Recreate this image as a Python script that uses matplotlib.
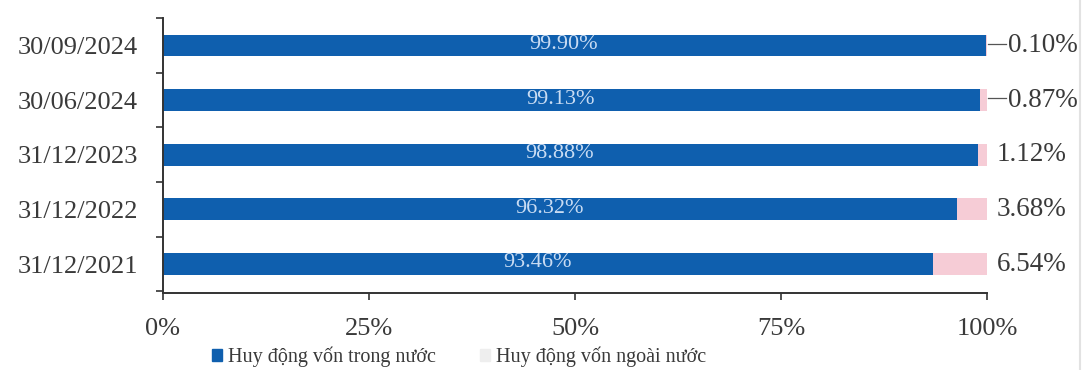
import matplotlib
matplotlib.use("Agg")
import matplotlib.pyplot as plt
from matplotlib.patches import Patch
from matplotlib.lines import Line2D

# Capital mobilisation structure by period (share of total, %)
dates = ["31/12/2021", "31/12/2022", "31/12/2023", "30/06/2024", "30/09/2024"]
domestic = [93.46, 96.32, 98.88, 99.13, 99.90]
foreign = [6.54, 3.68, 1.12, 0.87, 0.10]
x_ticks = [0, 25, 50, 75, 100]
x_tick_labels = ["0%", "25%", "50%", "75%", "100%"]
legend_labels = ["Huy động vốn trong nước", "Huy động vốn ngoài nước"]

BLUE = "#0f5fae"
PINK = "#f6ccd6"
TEXT = "#3a3a3a"

plt.rcParams["font.family"] = ["Liberation Serif", "DejaVu Serif"]

fig = plt.figure(figsize=(10.85, 3.70), dpi=100)
ax = fig.add_axes([0.1502, 0.208, 0.7595, 0.743])

ypos = list(range(len(dates)))
ax.barh(ypos, domestic, height=0.40, color=BLUE, label=legend_labels[0])
ax.barh(ypos, foreign, left=domestic, height=0.40, color=PINK, label=legend_labels[1])

for y, d, f in zip(ypos, domestic, foreign):
    ax.text(d / 2 - 1.3, y + 0.02, f"{d:.2f}%", ha="center", va="center",
            color="#c9dcf3", fontsize=16)
    if f < 1:
        # leader line from the thin segment out to its label
        ax.plot([100.1, 102.3], [y + 0.03, y + 0.03], color="#555555", lw=0.9,
                clip_on=False)
        ax.text(102.5, y, f"{f:.2f}%", ha="left", va="center",
                color=TEXT, fontsize=19.5, clip_on=False)
    else:
        ax.text(101.2, y, f"{f:.2f}%", ha="left", va="center",
                color=TEXT, fontsize=19.5, clip_on=False)

ax.set_xlim(0, 100)
ax.set_ylim(-0.53, 4.47)
ax.set_xticks(x_ticks)
ax.set_xticklabels(x_tick_labels, fontsize=19, color=TEXT)
ax.set_yticks(ypos)
ax.set_yticklabels(dates, fontsize=19, color=TEXT)
ax.set_yticks([i - 0.5 for i in range(len(dates) + 1)], minor=True)
ax.tick_params(axis="y", which="major", length=0, pad=18)
ax.tick_params(axis="y", which="minor", length=5, width=1.2, color="#333333")
ax.tick_params(axis="x", length=5, width=1.2, color="#333333", pad=13)

for side in ("top", "right"):
    ax.spines[side].set_visible(False)
for side in ("left", "bottom"):
    ax.spines[side].set_color("#333333")
    ax.spines[side].set_linewidth(1.4)

# faint page edge on the right
fig.add_artist(Line2D([0.9955, 0.9955], [0.0, 1.0], transform=fig.transFigure,
                      color="#e2e2e2", lw=1.5))

handles = [Patch(color=BLUE), Patch(color="#eeeeee")]
fig.legend(handles, legend_labels, loc="center", bbox_to_anchor=(0.423, 0.035),
           ncol=2, frameon=False, fontsize=14.5, handlelength=0.5, handleheight=0.5,
           handletextpad=0.3, columnspacing=2.2, labelcolor=TEXT)

fig.savefig("out.png", dpi=100, facecolor="white")
